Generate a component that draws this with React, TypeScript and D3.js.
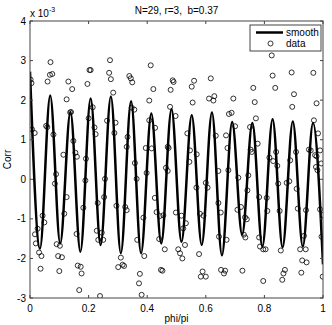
import React, { useEffect, useRef } from "react";
import * as d3 from "d3";

// smooth curve: peaks and troughs
const smoothPhi = [
  0, 0.034, 0.069, 0.103, 0.138, 0.172, 0.207, 0.241, 0.276, 0.31, 0.345, 0.379, 0.414, 0.448, 0.483,
  0.517, 0.552, 0.586, 0.621, 0.655, 0.69, 0.724, 0.759, 0.793, 0.828, 0.862, 0.897, 0.931, 0.966, 1.0,
];
const smoothCorr = [
  2.72, -1.75, 2.12, -1.62, 1.7, -1.83, 2.04, -1.66, 2.09, -1.87, 1.97, -1.87, 1.66, -1.62, 1.77,
  -1.58, 1.62, -1.66, 1.69, -1.92, 1.45, -1.4, 1.42, -1.7, 1.52, -1.72, 1.46, -1.7, 1.42, -2.15,
];

// scattered data (x in phi/pi, y in 1e-3)
const dataPhi = [
  0.002, 0.005, 0.07, 0.06, 0.068, 0.076, 0.131, 0.144, 0.125, 0.196, 0.203, 0.207, 0.214, 0.273, 0.27,
  0.276, 0.284, 0.339, 0.344, 0.349, 0.412, 0.421, 0.407, 0.487, 0.49, 0.48, 0.478, 0.56, 0.552, 0.555,
  0.617, 0.611, 0.629, 0.626, 0.694, 0.762, 0.767, 0.825, 0.828, 0.837, 0.893, 0.901, 0.895, 0.967, 0.978,
  0.007, 0.016, 0.055, 0.059, 0.08, 0.137, 0.14, 0.148, 0.155, 0.16, 0.114, 0.089, 0.085, 0.125, 0.191,
  0.189, 0.2, 0.22, 0.224, 0.231, 0.182, 0.263, 0.292, 0.288, 0.256, 0.253, 0.295, 0.347, 0.356, 0.333,
  0.33, 0.358, 0.364, 0.325, 0.33, 0.395, 0.407, 0.427, 0.415, 0.398, 0.426, 0.387, 0.432, 0.443, 0.455,
  0.464, 0.47, 0.47,
  0.043, 0.049, 0.017, 0.02, 0.026, 0.031, 0.039, 0.036, 0.091, 0.102, 0.096, 0.109, 0.1, 0.117, 0.159,
  0.163, 0.173, 0.176, 0.168, 0.228, 0.245, 0.233, 0.25, 0.239, 0.301, 0.31, 0.316, 0.321, 0.366, 0.39,
  0.375, 0.372, 0.381, 0.441, 0.447, 0.452, 0.46,
  0.497, 0.473, 0.537, 0.544, 0.546, 0.569, 0.568, 0.606, 0.6, 0.634, 0.643, 0.643, 0.669, 0.679, 0.688,
  0.674, 0.7, 0.677, 0.711, 0.708, 0.72, 0.751, 0.753, 0.757, 0.777, 0.771, 0.742, 0.745, 0.782, 0.808,
  0.81, 0.817, 0.83, 0.84, 0.844, 0.847, 0.852, 0.888, 0.908, 0.876, 0.885, 0.91, 0.914, 0.952, 0.958,
  0.973, 0.978, 0.99, 0.969, 0.983, 0.976, 0.981, 0.994, 0.99, 0.942, 1.0,
  0.498, 0.517, 0.532, 0.523, 0.506, 0.512, 0.52, 0.529, 0.577, 0.589, 0.583, 0.6, 0.58, 0.592, 0.651,
  0.645, 0.671, 0.652, 0.662, 0.666, 0.725, 0.734, 0.74, 0.73, 0.735, 0.782, 0.785, 0.796, 0.804, 0.796,
  0.856, 0.87, 0.865, 0.861, 0.922, 0.941, 0.929, 0.944, 0.926, 0.935, 0.995, 0.999,
];
const dataCorr = [
  2.52, 2.43, 2.96, 2.47, 2.64, 2.66, 2.47, 2.28, 2.02, 2.41, 2.76, 2.76, 1.82, 3.01, 2.69,
  2.53, 2.19, 2.61, 2.55, 2.45, 2.88, 2.28, 1.99, 2.5, 2.46, 2.26, 1.83, 2.49, 2.34, 1.94,
  2.55, 2.04, 2.1, 1.99, 2.04, 2.31, 1.95, 3.13, 2.62, 2.31, 2.7, 2.15, 1.83, 2.69, 1.92,
  1.26, 1.17, 1.35, 1.32, 1.13, 1.69, 1.7, 0.97, 0.67, 0.57, 0.62, 0.13, -0.11, -0.45, 0.52,
  -0.03, 1.54, 1.31, 1.14, -0.6, -0.72, 1.48, 1.43, 1.17, 0.01, -0.45, -0.67, 1.81, 1.76, 1.07,
  0.82, 0.41, 0.01, -0.7, -0.78, 0.79, 1.49, 1.3, 0.78, 0.16, -0.47, -0.97, -0.83, -0.93, -0.91,
  0.29, 0.21, 0.82,
  -0.92, -1.09, -1.39, -1.62, -1.25, -1.85, -1.94, -2.26, -1.64, -1.68, -1.94, -1.97, -2.32, -0.87, -1.38,
  -2.18, -2.21, -2.38, -2.8, -1.3, -1.35, -1.53, -1.53, -2.95, -2.22, -1.98, -2.16, -2.19, -1.53, -1.94,
  -2.39, -2.63, -2.92, -1.51, -2.29, -2.31, -1.77,
  1.6, 0.79, 1.16, 0.44, 0.73, 0.63, -0.21, -0.21, -0.09, 1.1, 0.21, -0.6, 1.11, 1.65, 1.68,
  0.79, 1.34, 0.23, 0.04, -0.77, -0.7, 1.32, 0.75, 0.69, 0.9, 1.54, -0.28, 0.1, -0.45, -0.47,
  -0.8, 0.55, 0.46, 0.69, 0.34, -0.11, -0.8, 0.48, 0.69, -0.09, -0.05, -0.24, -0.74, 0.75, 0.73,
  0.61, 0.58, 0.73, 1.49, 1.16, 0.31, 0.23, 0.4, -0.76, -0.78, -0.9,
  -0.84, -0.92, -1.11, -1.24, -1.77, -1.87, -2.0, -1.66, -1.89, -2.33, -2.46, -2.46, -0.87, -0.92, -0.84,
  -1.45, -1.53, -2.29, -2.38, -2.31, -2.31, -0.96, -1.01, -1.4, -1.47, -1.47, -1.7, -1.77, -1.77, -2.57,
  -1.8, -2.29, -2.38, -2.54, -1.77, -1.77, -2.05, -2.1, -2.36, -1.43, -1.45, -2.46,
];

const xTicks = [0, 0.2, 0.4, 0.6, 0.8, 1];
const yTicks = [-3, -2, -1, 0, 1, 2, 3, 4];
const legendLabels = ["smooth", "data"];

const W = 332, H = 325;
const margin = { top: 21, right: 9, bottom: 27, left: 30 };
const font = "'Liberation Sans', Arial, sans-serif";

const App = () => {
  const ref = useRef<SVGSVGElement>(null);

  useEffect(() => {
    document.body.style.margin = "0";
    const svg = d3.select(ref.current);
    svg.selectAll("*").remove();

    const width = W - margin.left - margin.right;
    const height = H - margin.top - margin.bottom;

    const x = d3.scaleLinear().domain([0, 1]).range([margin.left, margin.left + width]);
    const y = d3.scaleLinear().domain([-3, 4]).range([margin.top + height, margin.top]);

    svg.append("rect").attr("width", W).attr("height", H).attr("fill", "white");

    const g = svg.append("g");

    // clip to axes
    svg.append("clipPath").attr("id", "plot-clip")
      .append("rect")
      .attr("x", margin.left).attr("y", margin.top)
      .attr("width", width).attr("height", height);

    const plot = g.append("g").attr("clip-path", "url(#plot-clip)");

    const pts = smoothPhi.map((p, i) => [p, smoothCorr[i]] as [number, number]);
    const line = d3.line<[number, number]>()
      .x(d => x(d[0]))
      .y(d => y(d[1]))
      .curve(d3.curveMonotoneX);

    plot.append("path")
      .attr("d", line(pts))
      .attr("fill", "none")
      .attr("stroke", "black")
      .attr("stroke-width", 2.5);

    plot.selectAll(".dot")
      .data(dataPhi.map((p, i) => [p, dataCorr[i]]))
      .enter().append("circle")
      .attr("cx", d => x(d[0]))
      .attr("cy", d => y(d[1]))
      .attr("r", 2.5)
      .attr("fill", "none")
      .attr("stroke", "black")
      .attr("stroke-width", 0.8);

    // axes box
    g.append("rect")
      .attr("x", margin.left).attr("y", margin.top)
      .attr("width", width).attr("height", height)
      .attr("fill", "none").attr("stroke", "#444").attr("stroke-width", 1);

    const tl = 3;
    xTicks.forEach(t => {
      g.append("line").attr("x1", x(t)).attr("x2", x(t))
        .attr("y1", margin.top + height).attr("y2", margin.top + height - tl)
        .attr("stroke", "#444");
      g.append("line").attr("x1", x(t)).attr("x2", x(t))
        .attr("y1", margin.top).attr("y2", margin.top + tl)
        .attr("stroke", "#444");
      g.append("text").attr("x", x(t)).attr("y", margin.top + height + 14)
        .attr("text-anchor", "middle")
        .attr("font-family", font).attr("font-size", 10)
        .text(d3.format("~g")(t));
    });
    yTicks.forEach(t => {
      g.append("line").attr("x1", margin.left).attr("x2", margin.left + tl)
        .attr("y1", y(t)).attr("y2", y(t)).attr("stroke", "#444");
      g.append("line").attr("x1", margin.left + width).attr("x2", margin.left + width - tl)
        .attr("y1", y(t)).attr("y2", y(t)).attr("stroke", "#444");
      g.append("text").attr("x", margin.left - 4).attr("y", y(t) + 3.5)
        .attr("text-anchor", "end")
        .attr("font-family", font).attr("font-size", 10)
        .text(String(t));
    });

    // exponent
    const ex = g.append("text").attr("x", margin.left).attr("y", 17)
      .attr("font-family", font).attr("font-size", 10);
    ex.append("tspan").text("x 10");
    ex.append("tspan").attr("dy", -5).attr("font-size", 7).text("-3");

    // title and labels
    g.append("text").attr("x", margin.left + width / 2).attr("y", 14)
      .attr("text-anchor", "middle")
      .attr("font-family", font).attr("font-size", 10)
      .style("white-space", "pre")
      .text("N=29, r=3,  b=0.37");
    g.append("text").attr("x", margin.left + width / 2).attr("y", H - 3)
      .attr("text-anchor", "middle")
      .attr("font-family", font).attr("font-size", 10)
      .text("phi/pi");
    g.append("text")
      .attr("transform", `translate(11,${margin.top + height / 2}) rotate(-90)`)
      .attr("text-anchor", "middle")
      .attr("font-family", font).attr("font-size", 10)
      .text("Corr");

    // legend
    const lg = g.append("g").attr("transform", `translate(250,25)`);
    lg.append("rect").attr("width", 71).attr("height", 26)
      .attr("fill", "white").attr("stroke", "#444");
    lg.append("line").attr("x1", 6).attr("x2", 33).attr("y1", 7.5).attr("y2", 7.5)
      .attr("stroke", "black").attr("stroke-width", 2.5);
    lg.append("circle").attr("cx", 20.5).attr("cy", 18.5).attr("r", 2.5)
      .attr("fill", "none").attr("stroke", "black").attr("stroke-width", 0.8);
    legendLabels.forEach((l, i) => {
      lg.append("text").attr("x", 36).attr("y", 11 + i * 11)
        .attr("font-family", font).attr("font-size", 10)
        .text(l);
    });
  }, []);

  return <svg ref={ref} width={W} height={H} style={{ display: "block" }} />;
};

export default App;
